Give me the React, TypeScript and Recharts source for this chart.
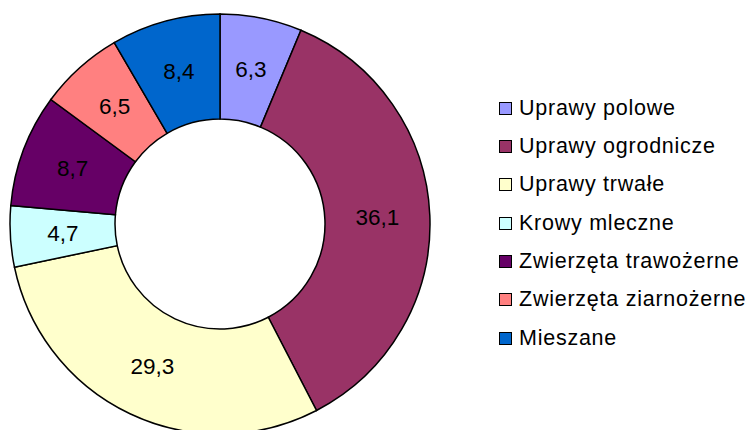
import React from 'react';
import { PieChart, Pie, Cell, Legend } from 'recharts';

const categories = [
  'Uprawy polowe',
  'Uprawy ogrodnicze',
  'Uprawy trwałe',
  'Krowy mleczne',
  'Zwierzęta trawożerne',
  'Zwierzęta ziarnożerne',
  'Mieszane',
];
const values = [6.3, 36.1, 29.3, 4.7, 8.7, 6.5, 8.4];
const colors = ['#9999FF', '#993366', '#FFFFCC', '#CCFFFF', '#660066', '#FF8080', '#0066CC'];

const data = categories.map((name, i) => ({ name, value: values[i] }));

const FONT = '"Liberation Sans", Arial, sans-serif';
const RAD = Math.PI / 180;

function renderLabel(props: any) {
  const { cx, cy, midAngle, innerRadius, outerRadius, value } = props;
  const r = (innerRadius + outerRadius) / 2;
  const x = cx + r * Math.cos(-midAngle * RAD);
  const y = cy + r * Math.sin(-midAngle * RAD);
  return (
    <text
      x={x}
      y={y}
      fill="#000"
      fontSize={22.5}
      fontFamily={FONT}
      textAnchor="middle"
      dominantBaseline="central"
    >
      {String(value).replace('.', ',')}
    </text>
  );
}

// legend keeps the original series order (Recharts would sort it)
function LegendList() {
  return (
    <div style={{ fontFamily: FONT, fontSize: 21.5, letterSpacing: 0.75, color: '#000' }}>
      {categories.map((name, i) => (
        <div key={name} style={{ display: 'flex', alignItems: 'center', height: 38.33 }}>
          <span
            style={{
              display: 'inline-block',
              flex: 'none',
              width: 11,
              height: 11,
              background: colors[i],
              border: '1.5px solid #000',
              marginRight: 7,
            }}
          />
          <span style={{ whiteSpace: 'nowrap' }}>{name}</span>
        </div>
      ))}
    </div>
  );
}

export default function App() {
  return (
    <div style={{ position: 'absolute', left: 0, top: 0, background: '#fff' }}>
      <PieChart width={752} height={430} margin={{ top: 0, right: 0, bottom: 0, left: 0 }}>
        <Pie
          data={data}
          dataKey="value"
          nameKey="name"
          cx={220}
          cy={224}
          outerRadius={210}
          innerRadius={105}
          startAngle={90}
          endAngle={-270}
          stroke="#000"
          strokeWidth={1.5}
          label={renderLabel}
          labelLine={false}
          isAnimationActive={false}
        >
          {data.map((d, i) => (
            <Cell key={d.name} fill={colors[i]} />
          ))}
        </Pie>
        <Legend
          layout="vertical"
          align="right"
          verticalAlign="top"
          content={<LegendList />}
          wrapperStyle={{ left: 499, top: 89, width: 253 }}
        />
      </PieChart>
    </div>
  );
}
